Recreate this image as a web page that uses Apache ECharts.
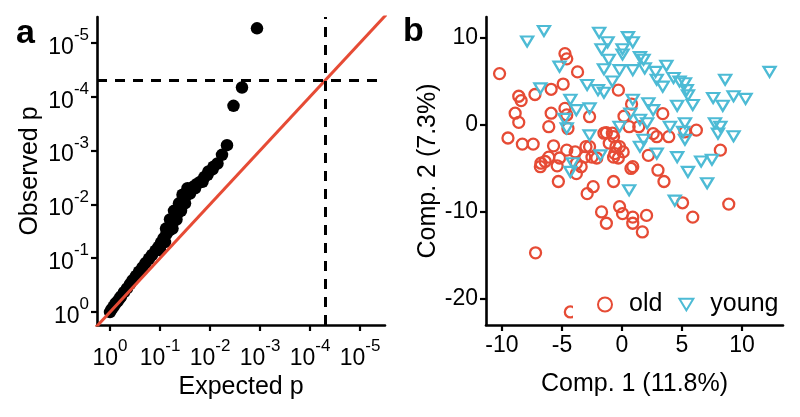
<!DOCTYPE html>
<html>
<head>
<meta charset="utf-8">
<script src="https://cdn.jsdelivr.net/npm/echarts@6/dist/echarts.min.js"></script>
<style>
  html, body { margin: 0; padding: 0; background: #fff; }
  #main { width: 800px; height: 417px; }
</style>
</head>
<body>
<div id="main"></div>
<script>
// panel a: QQ plot, values are -log10(p)
var qqExpected = [0.00, 0.03, 0.07, 0.11, 0.15, 0.19, 0.22, 0.28, 0.34, 0.40, 0.45, 0.52, 0.58, 0.65, 0.71,
  0.78, 0.84, 0.91, 0.97, 1.02, 1.07, 1.13, 1.19, 1.23, 1.27, 1.31, 1.35, 1.39, 1.43, 1.47, 1.51, 1.57,
  1.62, 1.67, 1.74, 1.81, 1.89, 1.97, 2.07, 2.15, 2.24, 2.34, 2.47, 2.64, 2.94,
  1.00, 1.10, 1.12, 1.20, 1.25, 1.28, 1.33, 1.38, 1.42, 1.45, 1.50, 1.55, 1.60, 1.70, 1.85, 1.95, 2.05];
var qqObserved = [0.00, 0.05, 0.10, 0.16, 0.20, 0.25, 0.29, 0.37, 0.44, 0.52, 0.59, 0.67, 0.75, 0.83, 0.91,
  0.99, 1.06, 1.14, 1.21, 1.29, 1.37, 1.45, 1.52, 1.60, 1.68, 1.76, 1.83, 1.91, 1.99, 2.07, 2.14, 2.24,
  2.29, 2.33, 2.38, 2.42, 2.51, 2.61, 2.70, 2.76, 2.92, 3.10, 3.83, 4.17, 5.27,
  1.15, 1.30, 1.55, 1.72, 1.55, 1.88, 1.72, 2.02, 1.88, 2.18, 2.02, 2.30, 2.20, 2.30, 2.42, 2.55, 2.65];
var threshold = 4.3;          // dashed cut-off on both axes
var identityEnds = [-0.3, 5.6];
var logTicks = [0, 1, 2, 3, 4, 5];

// panel b: PCA, [Comp. 1, Comp. 2]
var oldPoints = [[-10.2, 5.9], [-4.75, 8.2], [-4.6, 7.6], [-3.7, 6.1], [-5.9, 4.1], [-4.9, 4.7], [-7.25, 3.5],
  [-8.6, 3.3], [-8.4, 2.8], [-8.9, 1.35], [-8.6, 0.3], [-5.9, 1.35], [-4.75, 1.9], [-4.6, 1.15], [-6.1, -0.2],
  [-4.5, -0.4], [-2.7, 0.95], [-0.3, 4.0], [0.8, 2.4], [0.17, 1.0], [3.4, 1.3], [0.6, -0.2], [1.4, -0.2],
  [-1.3, -0.9], [-0.7, -1.35], [2.6, -1.0], [2.9, -1.35], [3.9, -1.35], [5.25, -0.8], [6.2, -0.6], [-9.5, -1.5],
  [-8.3, -2.2], [-7.4, -2.2], [-5.7, -2.4], [-6.8, -4.8], [-6.4, -4.2], [-6.1, -3.7], [-5.4, -4.7], [-5.2, -3.8],
  [-4.6, -2.9], [-3.9, -3.1], [-3.8, -4.4], [-3.8, -5.6], [-3.4, -4.8], [-3.1, -3.7], [-2.7, -2.5], [-2.5, -3.7],
  [-2.1, -3.8], [-5.3, -6.5], [-2.9, -7.9], [-2.4, -7.1], [-1.06, -2.1], [-0.7, -3.7], [-0.3, -3.8], [-0.2, -2.5],
  [0.1, -3.1], [-0.6, -3.3], [-0.7, -6.5], [0.9, -4.8], [2.2, -3.5], [3.0, -5.2], [3.5, -6.5], [8.2, -2.9],
  [5.05, -8.95], [8.9, -9.1], [-1.7, -10.0], [-0.2, -9.4], [0.05, -10.2], [0.9, -10.6], [0.9, -11.3], [2.05, -10.4],
  [1.7, -12.3], [-1.3, -11.3], [5.9, -10.6], [-7.2, -14.7], [-4.3, -21.5], [-1.5, -0.95], [-0.8, -0.95],
  [-0.5, -2.5], [0.75, -5.0], [-3.0, -2.5], [-6.75, -4.4]];
var youngPoints = [[-7.9, 9.6], [-6.5, 10.8], [-1.9, 10.6], [-1.2, 9.5], [-1.7, 8.7], [0.05, 8.7], [0.5, 10.1],
  [0.9, 9.5], [0.05, 8.1], [1.5, 7.8], [1.8, 7.5], [-1.1, 7.5], [-1.5, 6.4], [-0.2, 6.3], [0.9, 6.3], [1.9, 6.5],
  [2.8, 6.1], [3.7, 6.8], [-5.2, 6.7], [-0.8, 5.0], [-2.9, 4.6], [-2.0, 4.0], [-1.5, 3.7], [2.9, 5.2], [3.4, 4.4],
  [4.3, 5.4], [4.8, 5.0], [5.25, 4.8], [5.4, 4.0], [5.5, 3.4], [5.9, 2.3], [4.6, 2.2], [8.6, 5.2], [7.6, 3.1],
  [8.4, 2.2], [9.3, 3.3], [10.3, 3.0], [12.3, 6.1], [-6.8, 4.2], [-4.3, 2.9], [-3.8, 1.7], [-2.7, 1.9], [0.9, 2.9],
  [2.2, 2.5], [2.6, 1.7], [0.7, 1.3], [1.5, 0.6], [2.1, 0.2], [-0.2, -0.2], [-4.6, -0.4], [-4.8, 0.7], [4.0, -0.2],
  [5.25, 0.2], [5.1, -0.8], [7.75, 0.2], [8.2, -0.2], [8.0, -1.0], [9.3, -1.3], [-2.7, -1.2], [1.8, -1.7],
  [1.5, -2.5], [5.25, -1.7], [2.9, -3.3], [4.6, -3.7], [-1.8, -3.5], [-4.1, -4.4], [6.6, -4.2], [7.5, -4.0],
  [5.5, -5.4], [7.1, -6.7], [0.6, -7.5], [4.4, -8.7], [-4.3, -5.4]];
var comp1Ticks = [-10, -5, 0, 5, 10];
var comp2Ticks = [-20, -10, 0, 10];

var font = 'Liberation Sans';
var red = '#E64B35';
var blue = '#4DBBD5';

var qqData = qqExpected.map(function (x, i) { return [x, qqObserved[i]]; });

// 10^-k labels: base sits at the bottom of the line, exponent at the top
var powRich = {
  b: { fontSize: 23, lineHeight: 32, verticalAlign: 'bottom', color: '#000', fontFamily: font },
  s: { fontSize: 17, lineHeight: 15, verticalAlign: 'top', color: '#000', fontFamily: font }
};
function powLabel(v) {
  return '{b|10}{s|' + (v === 0 ? '0' : '-' + v) + '}';
}

function axisBase(extra) {
  var o = {
    type: 'value',
    nameLocation: 'middle',
    nameTextStyle: { fontSize: 25, color: '#000', fontFamily: font },
    axisLine: { onZero: false, lineStyle: { color: '#000', width: 2.6 } },
    axisTick: { length: 6, lineStyle: { color: '#000', width: 2.2 } },
    axisLabel: { color: '#000', fontSize: 23, fontFamily: font, margin: 9 },
    splitLine: { show: false }
  };
  for (var k in extra) {
    if (typeof extra[k] === 'object' && o[k] && !Array.isArray(extra[k])) {
      for (var j in extra[k]) o[k][j] = extra[k][j];
    } else {
      o[k] = extra[k];
    }
  }
  return o;
}

var chart = echarts.init(document.getElementById('main'));
chart.setOption({
  animation: false,
  textStyle: { fontFamily: font },
  title: [
    { text: 'a', left: 11, top: 12, textStyle: { fontSize: 34, fontWeight: 'bold', color: '#000', fontFamily: font } },
    { text: 'b', left: 398, top: 10, textStyle: { fontSize: 34, fontWeight: 'bold', color: '#000', fontFamily: font } }
  ],
  grid: [
    { left: 97, right: 415, top: 17, bottom: 92 },
    { left: 486, right: 17, top: 17, bottom: 92 }
  ],
  xAxis: [
    axisBase({
      gridIndex: 0, min: -0.26, max: 5.5, name: 'Expected p', nameGap: 47,
      axisTick: { customValues: logTicks },
      axisLabel: { customValues: logTicks, formatter: powLabel, rich: powRich, margin: 13 }
    }),
    axisBase({
      gridIndex: 1, min: -11.33, max: 13.42, name: 'Comp. 1 (11.8%)', nameGap: 47,
      axisTick: { customValues: comp1Ticks },
      axisLabel: { customValues: comp1Ticks }
    })
  ],
  yAxis: [
    axisBase({
      gridIndex: 0, min: -0.24, max: 5.48, name: 'Observed p', nameGap: 54,
      axisTick: { customValues: logTicks },
      axisLabel: { customValues: logTicks, formatter: powLabel, rich: powRich, margin: 8 }
    }),
    axisBase({
      gridIndex: 1, min: -23.0, max: 12.41, name: 'Comp. 2 (7.3%)', nameGap: 44,
      axisTick: { customValues: comp2Ticks },
      axisLabel: { customValues: comp2Ticks, margin: 8 }
    })
  ],
  legend: {
    data: ['old', { name: 'young', icon: 'path://M0,0L12,0L6,10Z' }],
    left: 573, top: 290,
    padding: [2, 4, 2, 24],
    backgroundColor: '#fff',
    itemWidth: 14, itemHeight: 14, itemGap: 16,
    textStyle: { fontSize: 25, color: '#000', fontFamily: font, padding: [0, 0, 0, 12] }
  },
  series: [
    {
      type: 'scatter', xAxisIndex: 0, yAxisIndex: 0, z: 2,
      data: qqData, symbolSize: 12.5,
      itemStyle: { color: '#000', opacity: 1 },
      markLine: {
        silent: true, symbol: ['none', 'none'], label: { show: false },
        lineStyle: { color: '#000', width: 3, type: [10, 8] },
        data: [{ yAxis: threshold }, { xAxis: threshold }]
      }
    },
    {
      type: 'line', xAxisIndex: 0, yAxisIndex: 0, z: 3,
      data: [[identityEnds[0], identityEnds[0]], [identityEnds[1], identityEnds[1]]],
      symbol: 'none', clip: true,
      lineStyle: { color: red, width: 3 }
    },
    {
      name: 'old', type: 'scatter', xAxisIndex: 1, yAxisIndex: 1,
      data: oldPoints, symbol: 'circle', symbolSize: 11,
      itemStyle: { color: 'rgba(0,0,0,0)', borderColor: red, borderWidth: 2.3, opacity: 1 }
    },
    {
      name: 'young', type: 'scatter', xAxisIndex: 1, yAxisIndex: 1,
      data: youngPoints, symbol: 'triangle', symbolRotate: 180, symbolSize: [12, 10],
      itemStyle: { color: 'rgba(0,0,0,0)', borderColor: blue, borderWidth: 2.3, opacity: 1 }
    }
  ]
});
</script>
</body>
</html>
